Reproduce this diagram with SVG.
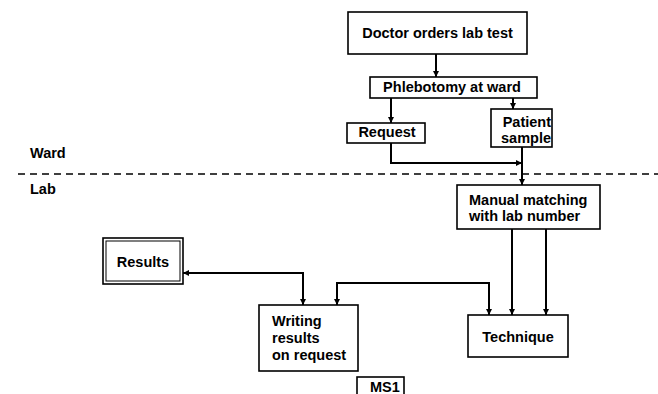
<svg xmlns="http://www.w3.org/2000/svg" width="658" height="394" viewBox="0 0 658 394">
  <style>
    .box { fill: #fff; stroke: #000; stroke-width: 1.6; }
    .thin { fill: none; stroke: #000; stroke-width: 1; }
    .lbl { font-family: "Liberation Sans", Arial, sans-serif; font-weight: bold; font-size: 14.5px; fill: #000; }
    .mid { text-anchor: middle; }
    .wire { fill: none; stroke: #000; stroke-width: 2; }
    .zone { fill: none; stroke: #000; stroke-width: 1.3; stroke-dasharray: 7 5; }
  </style>
  <defs>
    <marker id="arrow" viewBox="0 0 10 10" refX="10" refY="5" markerWidth="3.2" markerHeight="3.2" orient="auto-start-reverse" markerUnits="strokeWidth">
      <path d="M0,0 L10,5 L0,10 Z" fill="#000"/>
    </marker>
  </defs>

  <!-- zone divider and zone names -->
  <g id="zones">
    <line class="zone" x1="18" y1="174" x2="658" y2="174"/>
    <text class="lbl" x="30" y="158">Ward</text>
    <text class="lbl" x="30" y="194">Lab</text>
  </g>

  <!-- connectors -->
  <g id="connectors">
    <path class="wire" d="M436,54 V77" marker-end="url(#arrow)"/>
    <path class="wire" d="M391,98 V123" marker-end="url(#arrow)"/>
    <path class="wire" d="M513,98 V109" marker-end="url(#arrow)"/>
    <path class="wire" d="M391,143 V163 H522" marker-end="url(#arrow)"/>
    <path class="wire" d="M522,147 V185" marker-end="url(#arrow)"/>
    <path class="wire" d="M512,229 V315" marker-end="url(#arrow)"/>
    <path class="wire" d="M546,229 V315" marker-end="url(#arrow)"/>
    <path class="wire" d="M489,315 V283 H337 V305" marker-start="url(#arrow)" marker-end="url(#arrow)"/>
    <path class="wire" d="M183,273 H303 V305" marker-start="url(#arrow)" marker-end="url(#arrow)"/>
  </g>

  <g id="doctor">
    <rect class="box" x="348" y="12" width="179" height="42"/>
    <text class="lbl mid" x="437.5" y="38" font-size="15">Doctor orders lab test</text>
  </g>

  <g id="phlebotomy">
    <rect class="box" x="370" y="77" width="167" height="21"/>
    <text class="lbl mid" x="452" y="92">Phlebotomy at ward</text>
  </g>

  <g id="request">
    <rect class="box" x="347" y="123" width="78" height="20"/>
    <text class="lbl mid" x="387" y="137">Request</text>
  </g>

  <g id="patient-sample">
    <rect class="box" x="491" y="109" width="61" height="38"/>
    <text class="lbl" x="551" y="127" text-anchor="end">Patient</text>
    <text class="lbl" x="551" y="143" text-anchor="end">sample</text>
  </g>

  <g id="matching">
    <rect class="box" x="457" y="185" width="143" height="44"/>
    <text class="lbl" x="469" y="205">Manual matching</text>
    <text class="lbl" x="469" y="221">with lab number</text>
  </g>

  <g id="technique">
    <rect class="box" x="468" y="315" width="100" height="42"/>
    <text class="lbl mid" x="518" y="342">Technique</text>
  </g>

  <g id="writing">
    <rect class="box" x="259" y="305" width="99" height="66"/>
    <text class="lbl" x="272" y="326">Writing</text>
    <text class="lbl" x="272" y="343">results</text>
    <text class="lbl" x="272" y="360">on request</text>
  </g>

  <g id="results">
    <rect class="box" x="103" y="238" width="80" height="46"/>
    <rect class="thin" x="106" y="241" width="74" height="40"/>
    <text class="lbl mid" x="143" y="267">Results</text>
  </g>

  <g id="ms1">
    <rect class="box" x="357" y="377" width="47" height="24"/>
    <text class="lbl" x="370" y="392">MS1</text>
  </g>
</svg>
